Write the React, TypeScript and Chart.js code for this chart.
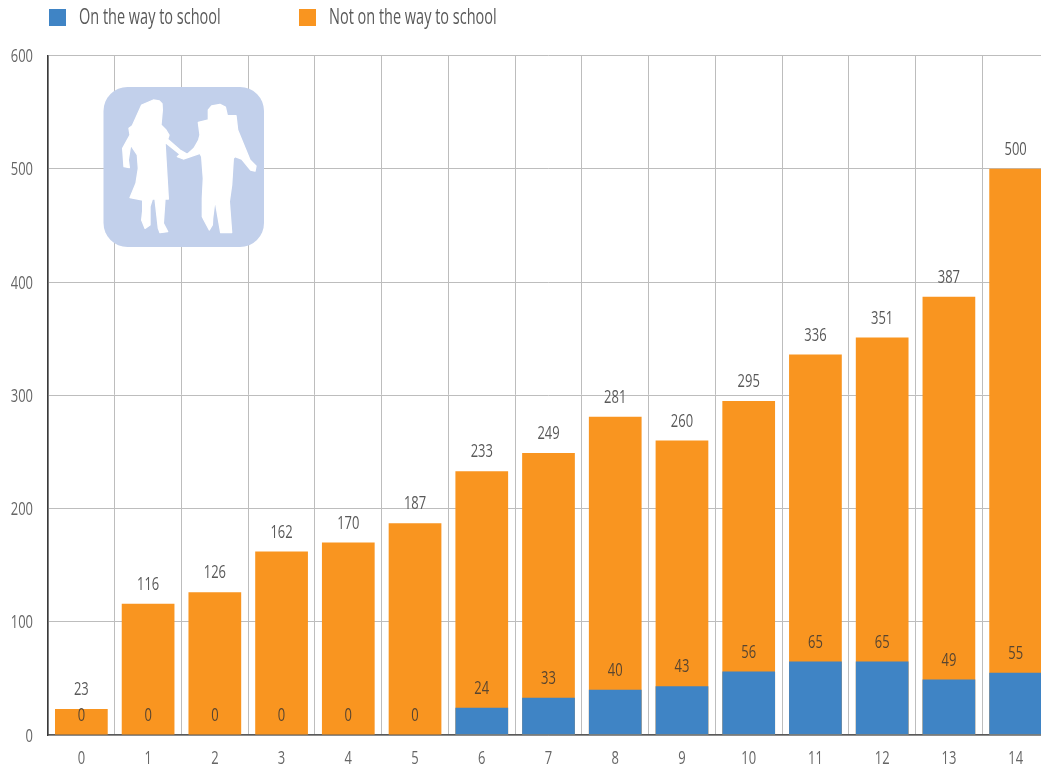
import React, { useEffect, useRef } from "react";
import { Chart, registerables } from "chart.js";

Chart.register(...registerables);

const categories = ["0", "1", "2", "3", "4", "5", "6", "7", "8", "9", "10", "11", "12", "13", "14"];
const onTheWay = [0, 0, 0, 0, 0, 0, 24, 33, 40, 43, 56, 65, 65, 49, 55];
const totals = [23, 116, 126, 162, 170, 187, 233, 249, 281, 260, 295, 336, 351, 387, 500];
const seriesNames = ["On the way to school", "Not on the way to school"];
const BLUE = "#3f84c5";
const ORANGE = "#f99520";
const FONT = '"Open Sans", "Liberation Sans", sans-serif';
let squeeze = 0.72;

const childrenOutline = [
  [160,45],[178,48],[186,56],[187,75],[183,120],[198,135],[207,150],[203,163],[240,195],[262,208],[282,190],[296,165],[300,150],[295,112],[325,105],
  [325,75],[335,63],[360,58],[376,66],[382,92],[408,92],[413,135],[450,225],[468,243],[465,258],[452,255],[425,222],
  [405,215],[400,220],[395,300],[388,350],[395,443],[362,443],[345,345],[338,400],[337,420],[328,435],[312,405],[307,395],[307,340],[310,280],[305,215],
  [300,205],[250,222],[232,215],[240,208],[195,172],[205,342],[195,342],[190,415],[203,440],[180,443],[175,430],[165,342],[157,342],
  [150,365],[150,420],[135,430],[125,405],[128,378],[128,345],[90,338],[108,295],[115,250],[112,210],[92,180],[85,225],[88,248],[72,245],[68,190],
  [90,150],[87,130],[97,122],[125,60],
];

const decorations = {
  id: "decorations",
  beforeInit(chart: any) {
    // condensed lettering: no narrow face is installed, so text is squeezed horizontally
    const c = chart.ctx;
    const base = c.fillText.bind(c);
    c.fillText = (t: string, x: number, y: number) => {
      c.save();
      c.translate(x, y);
      c.scale(squeeze, 1);
      base(t, 0, 0);
      c.restore();
    };
  },
  beforeDatasetsDraw(chart: any) {
    const c = chart.ctx;
    c.save();
    c.fillStyle = "#c2d0eb";
    c.beginPath();
    c.roundRect(103.5, 87, 160.5, 160, 24);
    c.fill();
    c.translate(100, 85);
    c.scale(1 / 3, 1 / 3);
    c.fillStyle = "#ffffff";
    c.strokeStyle = "#ffffff";
    c.lineWidth = 4;
    c.lineJoin = "round";
    c.beginPath();
    childrenOutline.forEach(([x, y], i) => (i ? c.lineTo(x, y) : c.moveTo(x, y)));
    c.closePath();
    c.fill();
    c.stroke();
    c.restore();
  },
  afterDatasetsDraw(chart: any) {
    const c = chart.ctx;
    c.save();
    c.font = `18px ${FONT}`;
    c.textAlign = "center";
    c.textBaseline = "middle";
    chart.data.datasets.forEach((ds: any, di: number) => {
      const meta = chart.getDatasetMeta(di);
      c.fillStyle = di === 0 ? "rgba(70,60,50,0.9)" : "#595959";
      meta.data.forEach((bar: any, i: number) => {
        c.fillText(String(ds.data[i]), bar.x, bar.y - 19);
      });
    });
    const xs = [49, 299];
    c.textAlign = "left";
    c.font = `21px ${FONT}`;
    squeeze = 0.69;
    chart.data.datasets.forEach((ds: any, di: number) => {
      c.fillStyle = ds.backgroundColor;
      c.fillRect(xs[di], 9, 17, 17);
      c.fillStyle = "#595959";
      c.fillText(ds.label, xs[di] + 30, 18.5);
    });
    squeeze = 0.72;
    c.restore();
  },
};

export default function App() {
  const ref = useRef<HTMLCanvasElement>(null);
  useEffect(() => {
    const chart = new Chart(ref.current!, {
      type: "bar",
      data: {
        labels: categories,
        datasets: [
          { label: seriesNames[0], data: onTheWay, backgroundColor: BLUE, order: 1, categoryPercentage: 0.79, barPercentage: 1 },
          { label: seriesNames[1], data: totals, backgroundColor: ORANGE, order: 2, categoryPercentage: 0.79, barPercentage: 1 },
        ],
      },
      plugins: [decorations],
      options: {
        animation: false,
        responsive: false,
        layout: { padding: { top: 55.5, left: 0, right: 0, bottom: 0 } },
        plugins: { legend: { display: false }, title: { display: false }, tooltip: { enabled: false } },
        scales: {
          x: {
            stacked: true,
            grid: { color: "#bdbdbd", lineWidth: 1, drawTicks: false },
            border: { color: "#5a5a5a", width: 1.5 },
            ticks: { color: "#666666", font: { family: FONT, size: 18 }, padding: 13, maxRotation: 0 },
            afterFit(s: any) { s.height = 34; },
          },
          y: {
            stacked: false,
            min: 0,
            max: 600,
            grid: { color: "#bdbdbd", lineWidth: 1, drawTicks: false },
            border: { color: "#3a3a3a", width: 1.5 },
            ticks: { stepSize: 100, color: "#666666", font: { family: FONT, size: 18 }, padding: 15, labelOffset: 1.5 },
            afterFit(s: any) { s.width = 48; },
          },
        },
      } as any,
    });
    return () => chart.destroy();
  }, []);
  return (
    <div style={{ position: "absolute", left: 0, top: 0, width: 1041, height: 769, overflow: "hidden", background: "#fff" }}>
      <canvas ref={ref} width={1049} height={769} style={{ display: "block" }} />
    </div>
  );
}
